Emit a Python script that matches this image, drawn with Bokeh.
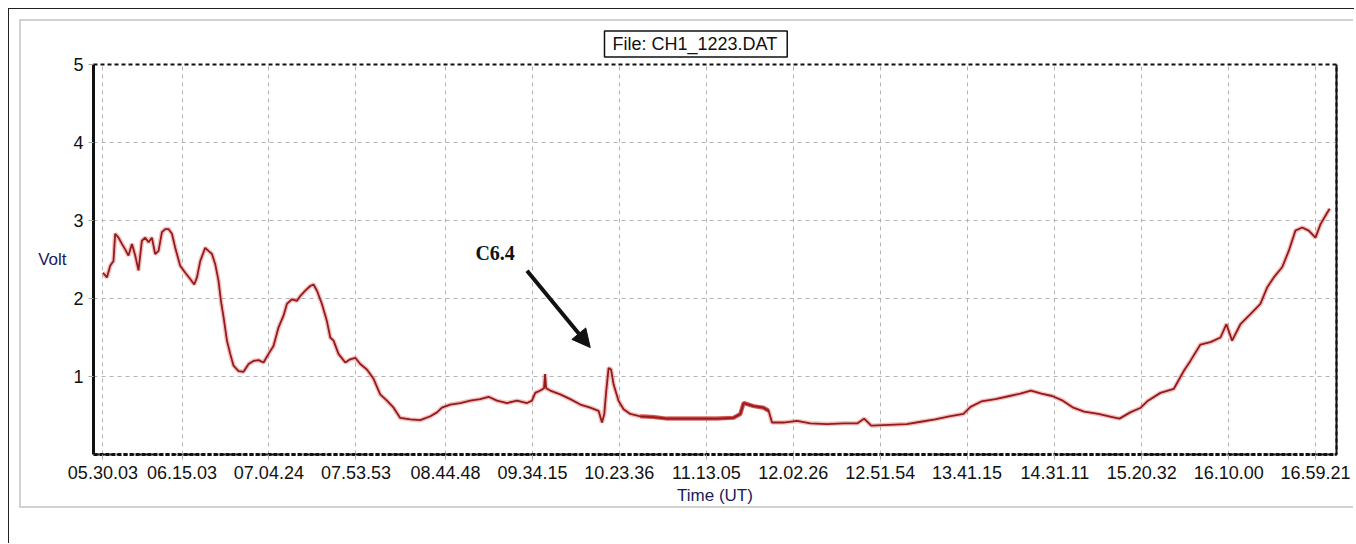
from bokeh.plotting import figure
from bokeh.models import (FixedTicker, LinearAxis, Label, Arrow, NormalHead,
                          Range1d, ColumnDataSource)
from bokeh.layouts import column
from bokeh.embed import file_html
from bokeh.resources import INLINE

# ---------------- data ----------------
tick_labels = ["05.30.03", "06.15.03", "07.04.24", "07.53.53", "08.44.48",
               "09.34.15", "10.23.36", "11.13.05", "12.02.26", "12.51.54",
               "13.41.15", "14.31.11", "15.20.32", "16.10.00", "16.59.21"]
y_ticks = [1, 2, 3, 4, 5]

# time in decimal hours (UT), voltage in Volt
time_seg1 = [5.501, 5.539, 5.570, 5.601, 5.617, 5.649, 5.681, 5.712, 5.743, 5.776,
             5.807, 5.838, 5.870, 5.902, 5.933, 5.965, 5.996, 6.028, 6.060, 6.091,
             6.122, 6.155, 6.186, 6.233, 6.281, 6.328, 6.366, 6.392, 6.423, 6.470,
             6.501, 6.534, 6.565, 6.596, 6.619, 6.644, 6.676, 6.707, 6.738, 6.786,
             6.833, 6.881, 6.928, 6.975, 7.023, 7.070, 7.117, 7.165, 7.212, 7.244,
             7.292, 7.339, 7.370, 7.418, 7.465, 7.496, 7.529, 7.576, 7.623, 7.655,
             7.686, 7.733, 7.797, 7.844, 7.892, 7.939, 8.002, 8.065, 8.128, 8.192,
             8.255, 8.316]
volt_seg1 = [2.33, 2.27, 2.42, 2.48, 2.83, 2.78, 2.70, 2.63, 2.55, 2.70,
             2.55, 2.36, 2.74, 2.78, 2.72, 2.78, 2.57, 2.61, 2.85, 2.89,
             2.89, 2.83, 2.65, 2.42, 2.33, 2.25, 2.18, 2.27, 2.48, 2.65,
             2.61, 2.57, 2.44, 2.23, 1.97, 1.76, 1.46, 1.29, 1.14, 1.07,
             1.06, 1.16, 1.20, 1.21, 1.18, 1.29, 1.39, 1.63, 1.78, 1.93,
             1.99, 1.97, 2.03, 2.10, 2.16, 2.18, 2.10, 1.93, 1.71, 1.50,
             1.46, 1.29, 1.18, 1.22, 1.24, 1.16, 1.09, 0.97, 0.77, 0.69,
             0.60, 0.47]

time_seg2 = [8.413, 8.508, 8.603, 8.666, 8.713, 8.792, 8.887, 8.981, 9.076, 9.155,
             9.234, 9.329, 9.424, 9.519, 9.566, 9.597, 9.645, 9.680, 9.690, 9.700,
             9.739, 9.834, 9.929, 10.024, 10.118, 10.197, 10.229, 10.251, 10.270, 10.292,
             10.315, 10.339, 10.386, 10.434, 10.497, 10.592, 10.718, 10.845, 11.003, 11.161,
             11.319, 11.476, 11.540, 11.571, 11.666, 11.760, 11.808, 11.840, 11.950, 12.077,
             12.203, 12.361, 12.519]
volt_seg2 = [0.45, 0.44, 0.49, 0.54, 0.60, 0.64, 0.66, 0.69, 0.71, 0.74,
             0.69, 0.66, 0.69, 0.66, 0.69, 0.79, 0.82, 0.85, 1.03, 0.85,
             0.82, 0.77, 0.71, 0.64, 0.60, 0.56, 0.41, 0.52, 0.82, 1.11,
             1.09, 0.90, 0.69, 0.58, 0.52, 0.49, 0.48, 0.46, 0.46, 0.46,
             0.46, 0.47, 0.52, 0.66, 0.62, 0.60, 0.56, 0.41, 0.41, 0.43,
             0.40, 0.39, 0.40]

time_seg3 = [12.650, 12.713, 12.780, 12.949, 13.117, 13.251, 13.386, 13.520, 13.654, 13.721,
             13.823, 13.956, 14.091, 14.192, 14.293, 14.393, 14.494, 14.595, 14.695, 14.797,
             14.931, 15.065, 15.132, 15.234, 15.334]
volt_seg3 = [0.40, 0.46, 0.37, 0.38, 0.39, 0.42, 0.45, 0.49, 0.52, 0.61,
             0.68, 0.71, 0.75, 0.78, 0.82, 0.78, 0.75, 0.69, 0.60, 0.55,
             0.52, 0.48, 0.46, 0.54, 0.60]

time_seg4 = [15.402, 15.520, 15.646, 15.741, 15.804, 15.899, 15.994, 16.089, 16.145, 16.199,
             16.278, 16.373, 16.467, 16.531, 16.594, 16.673, 16.736, 16.799, 16.863, 16.925,
             16.989, 17.036, 17.100, 17.124]
volt_seg4 = [0.69, 0.79, 0.84, 1.07, 1.20, 1.41, 1.44, 1.50, 1.67, 1.46,
             1.67, 1.80, 1.93, 2.14, 2.27, 2.40, 2.61, 2.87, 2.91, 2.87,
             2.78, 2.95, 3.10, 3.15]

time_h = time_seg1 + time_seg2 + time_seg3 + time_seg4
volt = volt_seg1 + volt_seg2 + volt_seg3 + volt_seg4

# interval where the recorded trace is a dense, noisy band
noisy_band = (10.59, 11.81)


def to_hours(s):
    h, m, sec = (int(v) for v in s.split("."))
    return h + m / 60 + sec / 3600


tick_pos = [to_hours(s) for s in tick_labels]

# ---------------- figure ----------------
FONT = "Liberation Sans"
NAVY = "#1a1a5c"
GREY_PANEL = "2px solid #d2d2d2"

p = figure(width=1334, height=489, output_backend="svg", toolbar_location=None,
           x_range=Range1d(5.4117, 17.1882), y_range=Range1d(0, 5),
           min_border_left=72, min_border_right=19, min_border_top=43,
           min_border_bottom=56, title="File: CH1_1223.DAT",
           background_fill_color="white", border_fill_color="white",
           margin=(10, 0, 0, 10),
           styles={"border-top": GREY_PANEL, "border-left": GREY_PANEL,
                   "border-bottom": GREY_PANEL})

p.title.align = "left"
p.title.offset = 511
p.title.standoff = 15
p.title.text_font = FONT
p.title.text_font_size = "18px"
p.title.text_font_style = "normal"
p.title.text_color = "#111111"
p.title.border_line_color = "#111111"
p.title.border_line_width = 1.5
p.title.background_fill_color = "white"
p.title.padding = dict(left=8, right=10, top=3, bottom=3)

p.outline_line_color = "#111111"
p.outline_line_width = 2
p.outline_line_dash = "4 3"

src = ColumnDataSource(dict(t=time_h, v=volt))
band = [(t, v) for t, v in zip(time_h, volt) if noisy_band[0] <= t <= noisy_band[1]]
band_src = ColumnDataSource(dict(t=[b[0] for b in band], v=[b[1] for b in band]))

p.line("t", "v", source=src, line_color="#e87070", line_width=4.5, line_alpha=0.45)
p.line("t", "v", source=band_src, line_color="#c62828", line_width=4, line_alpha=0.75)
p.line("t", "v", source=src, line_color="#921c1c", line_width=1.8)

# x axis
xa = p.xaxis[0]
xa.ticker = FixedTicker(ticks=tick_pos)
xa.major_label_overrides = {tp: lab for tp, lab in zip(tick_pos, tick_labels)}
xa.axis_line_width = 3
xa.axis_line_dash = "4 2"
xa.axis_line_color = "#111111"
xa.major_tick_out = 5
xa.major_tick_in = 0
xa.major_tick_line_color = "#a8a8a8"
xa.minor_tick_line_color = None
xa.major_label_standoff = 6
xa.major_label_text_font = FONT
xa.major_label_text_font_size = "18px"
xa.major_label_text_color = "#111111"
xa.axis_label = "Time (UT)"
xa.axis_label_text_font = FONT
xa.axis_label_text_font_size = "17px"
xa.axis_label_text_font_style = "normal"
xa.axis_label_text_color = NAVY
xa.axis_label_standoff = 4

# y axis
ya = p.yaxis[0]
ya.ticker = FixedTicker(ticks=y_ticks)
ya.axis_line_width = 3
ya.axis_line_color = "#111111"
ya.major_tick_out = 5
ya.major_tick_in = 0
ya.major_tick_line_color = "#a8a8a8"
ya.minor_tick_line_color = None
ya.major_label_standoff = 5
ya.major_label_text_font = FONT
ya.major_label_text_font_size = "18px"
ya.major_label_text_color = "#111111"
ya.axis_label = "Volt"
ya.axis_label_orientation = "horizontal"
ya.axis_label_text_font = FONT
ya.axis_label_text_font_size = "17px"
ya.axis_label_text_font_style = "normal"
ya.axis_label_text_color = NAVY
ya.axis_label_standoff = 4

# right border
ra = LinearAxis(ticker=FixedTicker(ticks=[]), axis_line_width=2,
                axis_line_color="#111111", major_tick_line_color=None,
                minor_tick_line_color=None, major_label_text_font_size="0px")
p.add_layout(ra, "right")

# grid
for g in (p.xgrid[0], p.ygrid[0]):
    g.grid_line_color = "#b4b4b4"
    g.grid_line_dash = "4 4"
    g.grid_line_width = 1
p.xgrid[0].ticker = FixedTicker(ticks=tick_pos)
p.ygrid[0].ticker = FixedTicker(ticks=y_ticks)

# annotation
ann_text_pos = (9.03, 2.445)
ann_arrow = (9.519, 2.356, 10.118, 1.371)
p.add_layout(Label(x=ann_text_pos[0], y=ann_text_pos[1], text="C6.4",
                   text_font="Liberation Serif", text_font_style="bold",
                   text_font_size="20px", text_color="#111111"))
p.add_layout(Arrow(end=NormalHead(size=18, fill_color="#111111", line_color="#111111"),
                   x_start=ann_arrow[0], y_start=ann_arrow[1],
                   x_end=ann_arrow[2], y_end=ann_arrow[3],
                   line_width=4, line_color="#111111"))

layout = column(p, width=1346, height=535, margin=(8, 0, 0, 8),
                styles={"border-top": "1px solid #222222",
                        "border-left": "1px solid #222222"})

open("out.html", "w").write(file_html(layout, INLINE))
